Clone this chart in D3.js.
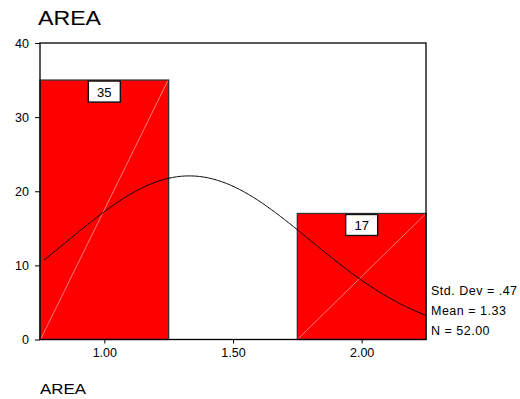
<!DOCTYPE html>
<html>
<head>
<meta charset="utf-8">
<script src="https://cdn.jsdelivr.net/npm/d3@7"></script>
<style>
  html, body { margin: 0; padding: 0; background: #fff; }
  svg { display: block; }
  text { font-family: "Liberation Sans", Arial, sans-serif; fill: #000; }
</style>
</head>
<body>
<svg id="chart" width="520" height="399"></svg>
<script>
// Histogram of AREA with fitted normal curve
const binStarts = [0.75, 1.25, 1.75];
const binWidth = 0.5;
const counts = [35, 0, 17];
const yTicks = [0, 10, 20, 30, 40];
const xTicks = [1.0, 1.5, 2.0];
const stdDev = 0.47;
const mean = 1.33;
const nCases = 52;
const statLines = ["Std. Dev = .47", "Mean = 1.33", "N = 52.00"];

const svg = d3.select("#chart");
const plotLeft = 40, plotRight = 426, plotTop = 43, plotBottom = 339.5;

const x = d3.scaleLinear().domain([0.75, 2.25]).range([plotLeft, plotRight]);
const y = d3.scaleLinear().domain([0, 40]).range([plotBottom, plotTop]);

// Title
svg.append("text")
  .attr("x", 38).attr("y", 25)
  .attr("font-size", 21)
  .attr("textLength", 63).attr("lengthAdjust", "spacingAndGlyphs")
  .text("AREA");

// Bars
const bins = binStarts.map((s, i) => ({ x0: s, x1: s + binWidth, n: counts[i] }))
  .filter(d => d.n > 0);

const barG = svg.append("g");
barG.selectAll("rect.bar").data(bins).join("rect")
  .attr("class", "bar")
  .attr("x", d => x(d.x0))
  .attr("y", d => y(d.n))
  .attr("width", d => x(d.x1) - x(d.x0))
  .attr("height", d => y(0) - y(d.n))
  .attr("fill", "#ff0000")
  .attr("stroke", "#333")
  .attr("stroke-width", 1.3);

// Faint diagonal hatch across each bar
barG.selectAll("line.diag").data(bins).join("line")
  .attr("class", "diag")
  .attr("x1", d => x(d.x0) + 1).attr("y1", d => y(0) - 1)
  .attr("x2", d => x(d.x1) - 1).attr("y2", d => y(d.n) + 1)
  .attr("stroke", "#ff9a9a")
  .attr("stroke-width", 0.8);

// Plot frame
svg.append("rect")
  .attr("x", plotLeft).attr("y", plotTop)
  .attr("width", plotRight - plotLeft).attr("height", plotBottom - plotTop)
  .attr("fill", "none")
  .attr("stroke", "#000")
  .attr("stroke-width", 1.3);

// Normal curve from the stated mean and standard deviation
const scaleFactor = nCases * binWidth;
const density = v => scaleFactor / (stdDev * Math.sqrt(2 * Math.PI)) *
  Math.exp(-0.5 * Math.pow((v - mean) / stdDev, 2));
const curveXs = d3.range(0.765, 2.2501, 0.005);
svg.append("path")
  .datum(curveXs)
  .attr("fill", "none")
  .attr("stroke", "#000")
  .attr("stroke-width", 1)
  .attr("d", d3.line().x(v => x(v)).y(v => y(density(v))));

// Count labels in boxes at the top of each bar
const lab = svg.append("g").selectAll("g").data(bins).join("g")
  .attr("transform", d => `translate(${x(d.x0 + binWidth / 2)},${y(d.n) + 1})`);
lab.append("rect")
  .attr("x", -16).attr("y", 0)
  .attr("width", 32).attr("height", 21)
  .attr("fill", "#fff")
  .attr("stroke", "#111")
  .attr("stroke-width", 1.4);
lab.append("line")
  .attr("x1", -15).attr("y1", 20).attr("x2", 15).attr("y2", 1)
  .attr("stroke", "#ffb0b0")
  .attr("stroke-width", 0.7)
  .attr("stroke-dasharray", "2,1");
lab.append("text")
  .attr("x", 0).attr("y", 15.5)
  .attr("text-anchor", "middle")
  .attr("font-size", 13)
  .text(d => d.n);

// Y axis
const yAxis = svg.append("g").attr("transform", `translate(${plotLeft},0)`)
  .call(d3.axisLeft(y).tickValues(yTicks).tickSize(5).tickPadding(6).tickFormat(d3.format("d")));
yAxis.select(".domain").remove();
yAxis.selectAll("line").attr("stroke", "#000");
yAxis.selectAll("text").attr("font-size", 12.5).attr("font-family", "Liberation Sans, Arial, sans-serif").attr("fill", "#000");

// X axis
const xAxis = svg.append("g").attr("transform", `translate(0,${plotBottom})`)
  .call(d3.axisBottom(x).tickValues(xTicks).tickSize(4).tickPadding(5).tickFormat(d3.format(".2f")));
xAxis.select(".domain").remove();
xAxis.selectAll("line").attr("stroke", "#000");
xAxis.selectAll("text").attr("font-size", 12.5).attr("font-family", "Liberation Sans, Arial, sans-serif").attr("fill", "#000");

// Summary statistics
svg.append("g").selectAll("text").data(statLines).join("text")
  .attr("x", 431)
  .attr("y", (d, i) => 294.5 + i * 20.3)
  .attr("font-size", 12.5)
  .attr("letter-spacing", 0.5)
  .text(d => d);

// Axis title
svg.append("text")
  .attr("x", 40).attr("y", 394)
  .attr("font-size", 14)
  .attr("textLength", 46).attr("lengthAdjust", "spacingAndGlyphs")
  .text("AREA");
</script>
</body>
</html>
